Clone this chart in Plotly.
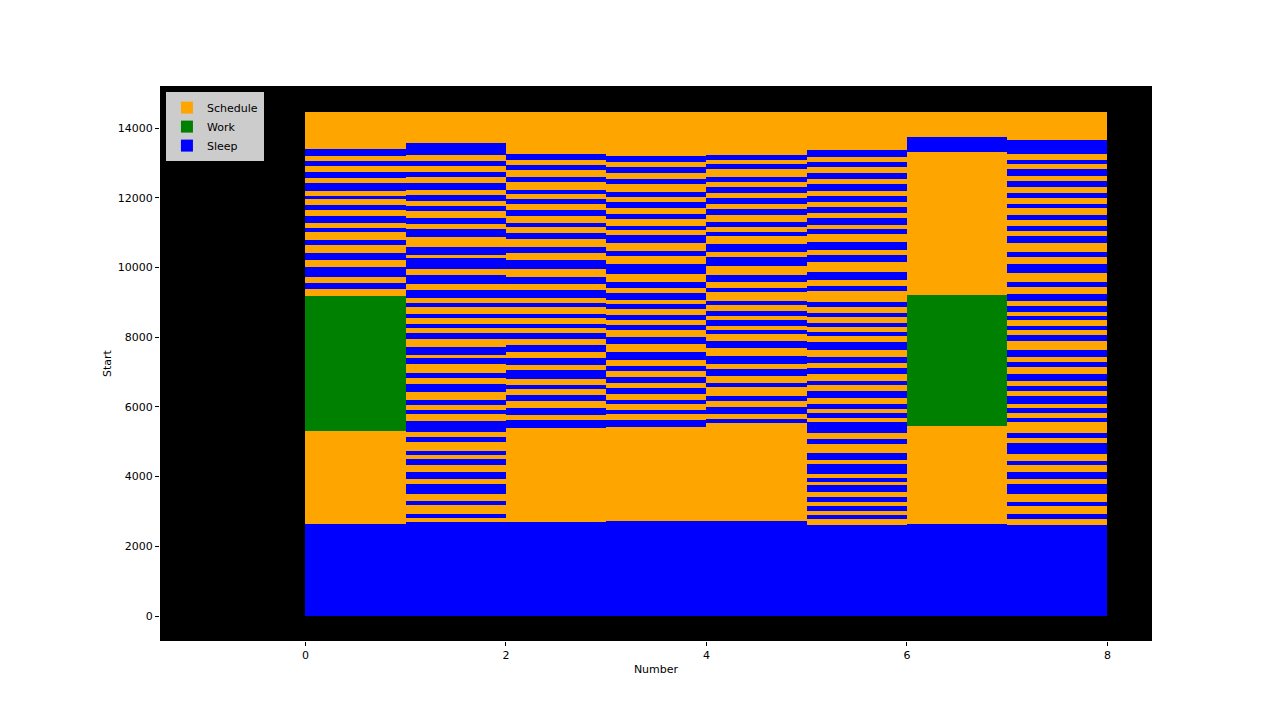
import plotly.graph_objects as go

# ---------------- data ----------------
days = [0, 1, 2, 3, 4, 5, 6, 7]
day_top = 14470  # end of each day's schedule bar

schedule_start = [2630, 2690, 2700, 2720, 2720, 2611, 2630, 2611]

work_day = [0, 6]
work_start = [5307, 5451]
work_end = [9180, 9209]

d0_sleep_start = [0, 9381, 9726, 10213, 10643, 11017, 11275, 11648, 11963, 12193, 12566, 12910, 13197]
d0_sleep_end   = [2630, 9553, 10012, 10414, 10787, 11131, 11475, 11791, 12049, 12422, 12738, 13053, 13398]

d1_sleep_start = [0, 2812, 3184, 3500, 3930, 4332, 4619, 4992, 5279, 5795, 6053, 6426, 6828, 7230, 7488,
                  7947, 8262, 8549, 8865, 9123, 9525, 9955, 10357, 10873, 11246, 11619, 11906, 12222, 12594,
                  12910, 13226]
d1_sleep_end   = [2690, 2926, 3299, 3787, 4131, 4504, 4734, 5135, 5594, 5910, 6197, 6656, 6971, 7402, 7717,
                  8119, 8377, 8664, 8980, 9353, 9783, 10271, 10586, 11102, 11418, 11762, 12078, 12422, 12738,
                  13053, 13570]

d2_sleep_start = [0, 5394, 5767, 6168, 6512, 6799, 7201, 7574, 7947, 8262, 8549, 8865, 9123, 9525, 9955,
                  10414, 10816, 11160, 11475, 11820, 12107, 12451, 12795, 13082]
d2_sleep_end   = [2700, 5623, 5967, 6340, 6627, 7058, 7402, 7775, 8119, 8377, 8664, 8980, 9353, 9726, 10213,
                  10586, 10988, 11275, 11648, 11963, 12222, 12594, 12939, 13254]

d3_sleep_start = [0, 5422, 5795, 6082, 6369, 6685, 7029, 7344, 7803, 8205, 8492, 8808, 9066, 9410, 9812,
                  10328, 10701, 11074, 11389, 11705, 12021, 12394, 12709, 13025]
d3_sleep_end   = [2720, 5623, 5910, 6197, 6541, 6857, 7172, 7574, 8004, 8349, 8635, 8951, 9267, 9582, 10099,
                  10471, 10930, 11189, 11533, 11877, 12164, 12537, 12881, 13197]

d4_sleep_start = [0, 5537, 5795, 6168, 6570, 6885, 7230, 7689, 8090, 8320, 8607, 8922, 9295, 9582, 10041,
                  10443, 10902, 11160, 11504, 11820, 12135, 12451, 12824, 13082]
d4_sleep_end   = [2720, 5652, 5996, 6312, 6685, 7086, 7459, 7889, 8205, 8492, 8750, 9037, 9410, 9783, 10299,
                  10672, 11017, 11303, 11676, 11992, 12308, 12594, 12967, 13226]

d5_sleep_start = [0, 2783, 3012, 3271, 3557, 3844, 4074, 4476, 4935, 5250, 5680, 5939, 6254, 6627, 6943,
                  7258, 7631, 8033, 8291, 8578, 8865, 9324, 9640, 10156, 10500, 10959, 11217, 11562, 11877,
                  12193, 12537, 12881, 13168]
d5_sleep_end   = [2611, 2898, 3156, 3414, 3758, 3959, 4361, 4676, 5078, 5566, 5824, 6082, 6455, 6742, 7115,
                  7430, 7861, 8148, 8406, 8693, 9008, 9467, 9869, 10357, 10730, 11102, 11418, 11734, 12049,
                  12394, 12709, 13025, 13369]

d6_sleep_start = [0, 13312]
d6_sleep_end   = [2630, 13742]

d7_sleep_start = [0, 2783, 3156, 3500, 3930, 4332, 4648, 5107, 5566, 5824, 6082, 6455, 6742, 7144, 7430,
                  7889, 8205, 8492, 8722, 9037, 9439, 9840, 10299, 10701, 11045, 11361, 11705, 11992, 12308,
                  12623, 12967, 13254]
d7_sleep_end   = [2611, 2926, 3271, 3787, 4131, 4447, 4963, 5250, 5680, 5967, 6312, 6598, 6943, 7287, 7631,
                  8062, 8320, 8607, 8894, 9238, 9582, 10099, 10443, 10902, 11189, 11504, 11820, 12135, 12480,
                  12824, 13082, 13656]

sleep_starts = [d0_sleep_start, d1_sleep_start, d2_sleep_start, d3_sleep_start,
                d4_sleep_start, d5_sleep_start, d6_sleep_start, d7_sleep_start]
sleep_ends = [d0_sleep_end, d1_sleep_end, d2_sleep_end, d3_sleep_end,
              d4_sleep_end, d5_sleep_end, d6_sleep_end, d7_sleep_end]

x_ticks = [0, 2, 4, 6, 8]
y_ticks = [0, 2000, 4000, 6000, 8000, 10000, 12000, 14000]

# ---------------- figure ----------------
FONT = "DejaVu Sans"
fig = go.Figure()

fig.add_trace(go.Bar(
    name="Schedule",
    x=[d + 0.5 for d in days],
    base=schedule_start,
    y=[day_top - s for s in schedule_start],
    width=[1] * len(days),
    marker=dict(color="orange", line=dict(width=0)),
    hoverinfo="skip",
))

fig.add_trace(go.Bar(
    name="Work",
    x=[d + 0.5 for d in work_day],
    base=work_start,
    y=[e - s for s, e in zip(work_start, work_end)],
    width=[1] * len(work_day),
    marker=dict(color="green", line=dict(width=0)),
    hoverinfo="skip",
))

sx, sb, sy = [], [], []
for d, starts, ends in zip(days, sleep_starts, sleep_ends):
    for s, e in zip(starts, ends):
        sx.append(d + 0.5)
        sb.append(s)
        sy.append(e - s)

fig.add_trace(go.Bar(
    name="Sleep",
    x=sx, base=sb, y=sy,
    width=[1] * len(sx),
    marker=dict(color="blue", line=dict(width=0)),
    hoverinfo="skip",
))

fig.update_layout(
    width=1280, height=720,
    barmode="overlay",
    paper_bgcolor="white",
    plot_bgcolor="black",
    margin=dict(l=160, r=128, t=86, b=79, autoexpand=False),
    font=dict(family=FONT, size=11, color="black"),
    showlegend=True,
    legend=dict(
        x=0.006, y=0.989, xanchor="left", yanchor="top",
        bgcolor="#cccccc", bordercolor="#cccccc", borderwidth=1,
        font=dict(family=FONT, size=11, color="black"),
        itemsizing="constant", tracegroupgap=0,
    ),
    bargap=0,
)

fig.update_xaxes(
    range=[-1.451, 8.444],
    tickmode="array", tickvals=x_ticks, ticktext=[str(t) for t in x_ticks],
    ticks="outside", ticklen=4, tickcolor="black", tickwidth=1,
    showgrid=False, zeroline=False, showline=False,
    title=dict(text="Number", font=dict(family=FONT, size=11), standoff=4),
    automargin=False,
)
fig.update_yaxes(
    range=[-717, 15205],
    tickmode="array", tickvals=y_ticks, ticktext=[str(t) for t in y_ticks],
    ticks="outside", ticklen=4, tickcolor="black", tickwidth=1,
    showgrid=False, zeroline=False, showline=False,
    title=dict(text="Start", font=dict(family=FONT, size=11), standoff=3),
    automargin=False,
)

fig.write_html("out.html")
